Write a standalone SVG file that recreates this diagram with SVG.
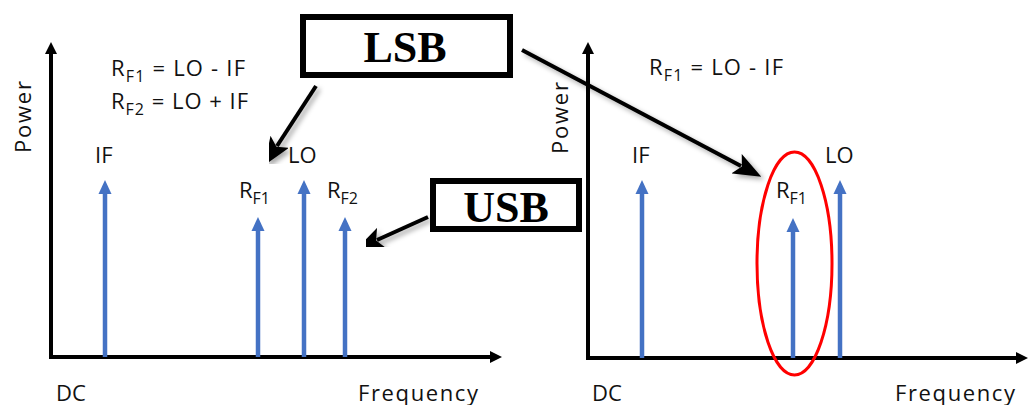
<svg xmlns="http://www.w3.org/2000/svg" width="1029" height="405" viewBox="0 0 1029 405">
  <defs>
    <marker id="axisHead" viewBox="0 0 12 12" refX="2" refY="6" markerWidth="12" markerHeight="12" markerUnits="userSpaceOnUse" orient="auto">
      <path d="M0,0 L12,6 L0,12 Z" fill="#000"/>
    </marker>
    <marker id="toneHead" viewBox="0 0 14 14" refX="2" refY="7" markerWidth="14" markerHeight="14" markerUnits="userSpaceOnUse" orient="auto">
      <path d="M0,0.5 L14,7 L0,13.5 Z" fill="#4472C4"/>
    </marker>
    <marker id="callHead" viewBox="0 0 28 22" refX="5" refY="11" markerWidth="28" markerHeight="22" markerUnits="userSpaceOnUse" orient="auto">
      <path d="M0,0 L28,11 L0,22 L6,11 Z" fill="#000"/>
    </marker>
    <filter id="shadow" x="-20%" y="-20%" width="150%" height="150%">
      <feDropShadow dx="3" dy="3" stdDeviation="2.5" flood-color="#000" flood-opacity="0.35"/>
    </filter>
  </defs>
  <style>
    .lbl { font-family: "Open Sans", "Liberation Sans", sans-serif; font-size: 22px; fill: #111; }
    .sub { font-size: 16px; }
    .axis { stroke: #000; stroke-width: 4; fill: none; }
    .tone { stroke: #4472C4; stroke-width: 4.5; fill: none; marker-end: url(#toneHead); }
    .box { fill: #fff; stroke: #000; stroke-width: 6; }
    .boxtxt { font-family: "Liberation Serif", "Times New Roman", serif; font-weight: bold; font-size: 44px; fill: #000; text-anchor: middle; }
    .call { stroke: #000; stroke-width: 4; fill: none; marker-end: url(#callHead); filter: url(#shadow); }
  </style>

  <rect width="1029" height="405" fill="#fff"/>

  <!-- left spectrum: both sidebands -->
  <g id="spectrum-left">
    <path class="axis" d="M51,357 V52" marker-end="url(#axisHead)"/>
    <path class="axis" d="M49,357 H492" marker-end="url(#axisHead)"/>
    <text class="lbl" transform="translate(31,117) rotate(-90)" text-anchor="middle" textLength="72">Power</text>
    <text class="lbl" x="56" y="401">DC</text>
    <text class="lbl" x="358" y="401" textLength="120">Frequency</text>
    <text class="lbl" x="111" y="76" textLength="134">R<tspan class="sub" dy="6">F1</tspan><tspan dy="-6"> = LO - IF</tspan></text>
    <text class="lbl" x="111" y="109" textLength="137">R<tspan class="sub" dy="6">F2</tspan><tspan dy="-6"> = LO + IF</tspan></text>
  </g>
  <g id="tone-if-left">
    <path class="tone" d="M105,357 V192"/>
    <text class="lbl" x="95" y="163">IF</text>
  </g>
  <g id="tone-rf1-left">
    <path class="tone" d="M258,357 V229"/>
    <text class="lbl" x="239" y="198">R<tspan class="sub" dy="6">F1</tspan></text>
  </g>
  <g id="tone-lo-left">
    <path class="tone" d="M304,357 V192"/>
    <text class="lbl" x="288" y="163">LO</text>
  </g>
  <g id="tone-rf2-left">
    <path class="tone" d="M345,357 V229"/>
    <text class="lbl" x="327" y="198">R<tspan class="sub" dy="6">F2</tspan></text>
  </g>

  <!-- right spectrum: lower sideband only -->
  <g id="spectrum-right">
    <path class="axis" d="M588,358 V52" marker-end="url(#axisHead)"/>
    <path class="axis" d="M586,358 H1018" marker-end="url(#axisHead)"/>
    <text class="lbl" transform="translate(568,118) rotate(-90)" text-anchor="middle" textLength="72">Power</text>
    <text class="lbl" x="592" y="401">DC</text>
    <text class="lbl" x="895" y="401" textLength="120">Frequency</text>
    <text class="lbl" x="649" y="75" textLength="134">R<tspan class="sub" dy="6">F1</tspan><tspan dy="-6"> = LO - IF</tspan></text>
  </g>
  <g id="tone-if-right">
    <path class="tone" d="M642,358 V192"/>
    <text class="lbl" x="632" y="163">IF</text>
  </g>
  <g id="tone-rf1-right">
    <path class="tone" d="M793,358 V230"/>
    <text class="lbl" x="776" y="198">R<tspan class="sub" dy="6">F1</tspan></text>
  </g>
  <g id="tone-lo-right">
    <path class="tone" d="M840,358 V192"/>
    <text class="lbl" x="825" y="163">LO</text>
  </g>
  <g id="highlight">
    <ellipse cx="794.5" cy="263.5" rx="37.5" ry="111.5" fill="none" stroke="#FF0000" stroke-width="3"/>
  </g>

  <!-- callout connectors -->
  <g id="connectors">
    <path class="call" d="M316,86 L277,146"/>
    <path class="call" d="M428,217 L377,240"/>
    <path class="call" d="M522,50 L741,166"/>
  </g>

  <!-- sideband labels -->
  <g id="lsb">
    <rect class="box" x="303" y="17" width="207" height="58"/>
    <text class="boxtxt" x="405" y="62">LSB</text>
  </g>
  <g id="usb">
    <rect class="box" x="433" y="181" width="146" height="48"/>
    <text class="boxtxt" x="506" y="222">USB</text>
  </g>
</svg>
